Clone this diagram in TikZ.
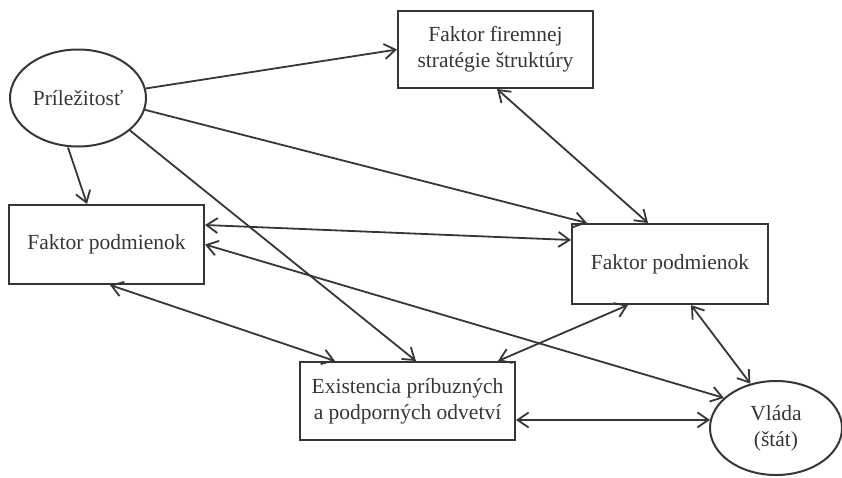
\documentclass[tikz,border=0pt]{standalone}
\usepackage{fontspec}
\setmainfont{Liberation Serif}
\usetikzlibrary{shapes.geometric,arrows.meta}
\definecolor{ink}{HTML}{363636}
\begin{document}
\begin{tikzpicture}[x=1pt,y=-1pt,
  every node/.style={text=ink,font=\fontsize{21.5}{26}\selectfont,inner sep=0pt,align=center},
  boxn/.style={draw=ink,line width=2pt,rectangle},
  elln/.style={draw=ink,line width=2pt,ellipse},
  tipn/.tip={Straight Barb[length=11pt,width=15pt]},
  link/.style={draw=ink,line width=1.8pt,-tipn},
  blink/.style={draw=ink,line width=1.8pt,tipn-tipn}]
\useasboundingbox (0,0) rectangle (842,477);
\node[elln,minimum width=136pt,minimum height=97pt] (opp) at (78,98) {Príležitosť};
\node[boxn,minimum width=195pt,minimum height=77pt] (ffs) at (495.5,49.5) {Faktor firemnej\\stratégie štruktúry};
\node[boxn,minimum width=195pt,minimum height=79pt] (fpl) at (106.5,244.5) {Faktor podmienok};
\node[boxn,minimum width=196pt,minimum height=80pt] (fpr) at (670,264) {Faktor podmienok};
\node[boxn,minimum width=215pt,minimum height=78pt] (ex) at (407.5,401) {Existencia príbuzných\\a podporných odvetví};
\node[elln,minimum width=132pt,minimum height=94pt] (vl) at (776,428) {Vláda\\(štát)};
% single arrows
\draw[link] (opp.8) -- (ffs.west);
\draw[link] (opp.-10) -- ([xshift=16pt]fpr.north west);
\draw[link] ([xshift=-10pt]opp.south) -- ([xshift=79pt]fpl.north west);
\draw[link] (opp.-32) -- ([xshift=117pt]ex.north west);
% double arrows
\draw[blink] ([xshift=1.5pt]ffs.south) -- ([xshift=-22pt]fpr.north);
\draw[blink] ([yshift=-21pt]fpl.north east) -- ([yshift=24pt]fpr.west);
\draw[blink] (fpl.east) -- (vl.150);
\draw[blink] ([xshift=3.5pt]fpl.south) -- ([xshift=36pt]ex.north west);
\draw[blink] ([xshift=57pt]fpr.south west) -- ([xshift=-18pt]ex.north east);
\draw[blink] ([xshift=-78pt]fpr.south east) -- (vl.120);
\draw[blink] ([yshift=-19pt]ex.east) -- (vl.173);
\end{tikzpicture}
\end{document}
